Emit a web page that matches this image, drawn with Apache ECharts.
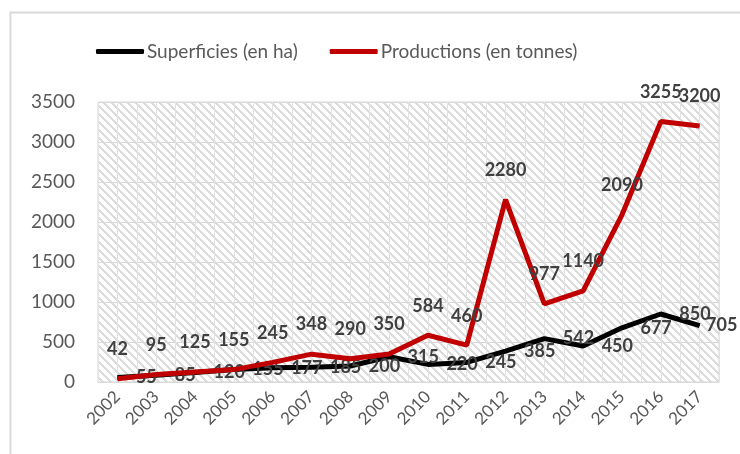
<!DOCTYPE html>
<html>
<head>
<meta charset="utf-8">
<script src="https://cdn.jsdelivr.net/npm/echarts@6/dist/echarts.min.js"></script>
<style>
  html, body { margin: 0; padding: 0; background: #fff; }
  #myChart { width: 740px; height: 454px; }
</style>
</head>
<body>
<div id="myChart"></div>
<script>
var years = ['2002', '2003', '2004', '2005', '2006', '2007', '2008', '2009',
  '2010', '2011', '2012', '2013', '2014', '2015', '2016', '2017']
var superficies = [55, 85, 120, 155, 177, 185, 200, 315, 220, 245, 385, 542, 450, 677, 850, 705]
var productions = [42, 95, 125, 155, 245, 348, 290, 350, 584, 460, 2280, 977, 1140, 2090, 3255, 3200]
var yTicks = { min: 0, max: 3500, interval: 500 }

// motif hachuré du fond de la zone de tracé
function hatch() {
  var c = document.createElement('canvas')
  c.width = 8
  c.height = 8
  var ctx = c.getContext('2d')
  ctx.fillStyle = '#ffffff'
  ctx.fillRect(0, 0, 8, 8)
  ctx.fillStyle = '#dcdcdc'
  for (var y = 0; y < 8; y++) {
    for (var x = 0; x < 8; x++) {
      if ((x - y + 8) % 8 < 3 && (x + y) % 2 === 0) ctx.fillRect(x, y, 1, 1)
      else if ((x - y + 8) % 8 === 1) ctx.fillRect(x, y, 1, 1)
    }
  }
  return c
}

var font = 'Lato, "Open Sans", sans-serif'
var myChart = echarts.init(document.getElementById('myChart'))

// le dernier libellé est collé au point pour rester dans le cadre
var supData = superficies.map(function (v, i) {
  return i === superficies.length - 1 ? { value: v, label: { distance: 6 } } : v
})

var option = {
  animation: false,
  textStyle: { fontFamily: font },
  graphic: [
    {
      type: 'rect',
      shape: { x: 10.5, y: 12.5, width: 800, height: 600 },
      style: { fill: 'none', stroke: '#d9d9d9', lineWidth: 2 },
      silent: true
    }
  ],
  legend: {
    left: 91,
    top: 37,
    icon: 'roundRect',
    itemWidth: 48,
    itemHeight: 5,
    itemGap: 32,
    textStyle: { fontSize: 19, color: '#595959', fontFamily: font, padding: [0, 0, 0, -2] },
    data: ['Superficies (en ha)', 'Productions (en tonnes)']
  },
  grid: {
    left: 98,
    right: 21,
    top: 102,
    bottom: 72,
    show: true,
    backgroundColor: { image: hatch(), repeat: 'repeat' },
    borderColor: '#d9d9d9',
    borderWidth: 1
  },
  xAxis: [
    {
      type: 'category',
      data: years,
      boundaryGap: true,
      axisLine: { show: true, lineStyle: { color: '#d9d9d9', width: 1 } },
      axisTick: { show: false },
      axisLabel: { interval: 0, rotate: 45, fontSize: 17, color: '#595959', margin: 12 },
      splitLine: { show: false }
    },
    {
      type: 'value',
      min: 0,
      max: 32,
      interval: 1,
      show: true,
      position: 'bottom',
      axisLine: { show: false },
      axisTick: { show: false },
      axisLabel: { show: false },
      splitLine: { show: true, lineStyle: { color: '#e3e3e3', width: 1 } }
    }
  ],
  yAxis: {
    type: 'value',
    min: yTicks.min,
    max: yTicks.max,
    interval: yTicks.interval,
    axisLine: { show: false },
    axisTick: { show: false },
    axisLabel: { fontSize: 19, color: '#595959', margin: 23, formatter: function (v) { return String(v) } },
    splitLine: { lineStyle: { color: '#d9d9d9', width: 1 } }
  },
  series: [
    {
      name: 'Superficies (en ha)',
      type: 'line',
      data: supData,
      symbol: 'circle',
      symbolSize: 1,
      lineStyle: { color: '#000000', width: 5 },
      itemStyle: { color: '#000000' },
      label: {
        show: true,
        position: 'right',
        distance: 18,
        fontSize: 18,
        fontWeight: 'bold',
        color: '#404040',
        fontFamily: font
      },
      z: 2
    },
    {
      name: 'Productions (en tonnes)',
      type: 'line',
      data: productions,
      symbol: 'circle',
      symbolSize: 1,
      lineStyle: { color: '#c00000', width: 5 },
      itemStyle: { color: '#c00000' },
      label: {
        show: true,
        position: 'top',
        distance: 20,
        fontSize: 18,
        fontWeight: 'bold',
        color: '#404040',
        fontFamily: font
      },
      z: 3
    }
  ]
}
myChart.setOption(option)
</script>
</body>
</html>
